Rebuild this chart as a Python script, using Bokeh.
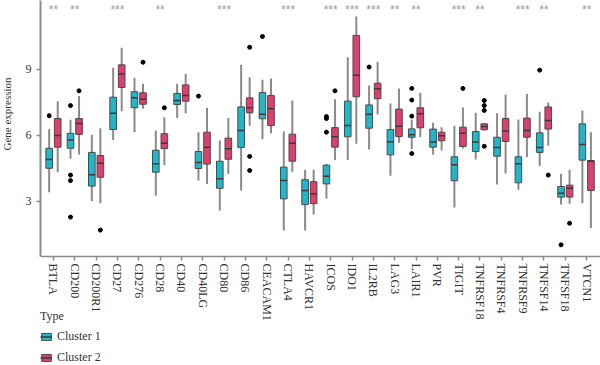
from bokeh.plotting import figure
from bokeh.models import ColumnDataSource, FixedTicker, Legend, LegendItem, Range1d, Title
from bokeh.core.properties import value
from bokeh.embed import file_html
from bokeh.resources import INLINE

genes = ["BTLA", "CD200", "CD200R1", "CD27", "CD276", "CD28", "CD40", "CD40LG",
         "CD80", "CD86", "CEACAM1", "CTLA4", "HAVCR1", "ICOS", "IDO1", "IL2RB",
         "LAG3", "LAIR1", "PVR", "TIGIT", "TNFRSF18", "TNFRSF4", "TNFRSF9",
         "TNFSF14", "TNFSF18", "VTCN1"]
stars = ["**", "**", "", "***", "", "**", "", "", "***", "", "", "***", "",
         "***", "***", "***", "**", "**", "", "***", "**", "", "***", "**", "", "**"]
y_ticks = [3, 6, 9]

# Cluster 1 box statistics
c1_lo = [3.42, 4.94, 3.01, 5.80, 6.15, 3.26, 6.80, 3.95, 2.59, 3.50, 5.83, 1.68, 1.68,
         3.14, 4.89, 5.36, 4.17, 5.38, 5.14, 2.73, 4.91, 3.77, 3.53, 4.61, 2.86, 2.92]
c1_q1 = [4.51, 5.42, 3.70, 6.27, 7.26, 4.33, 7.41, 4.50, 3.60, 5.45, 6.76, 3.12, 2.86,
         3.80, 5.94, 6.33, 5.12, 5.92, 5.47, 3.94, 5.27, 5.06, 3.85, 5.23, 3.20, 4.88]
c1_med = [4.91, 5.80, 4.21, 7.01, 7.71, 4.71, 7.59, 4.77, 4.03, 6.23, 6.97, 3.95, 3.50,
          4.15, 6.45, 6.97, 5.71, 6.03, 5.70, 4.67, 5.70, 5.45, 4.71, 5.45, 3.38, 5.59]
c1_q3 = [5.42, 6.10, 5.23, 7.74, 7.99, 5.33, 7.91, 5.27, 4.83, 7.30, 7.95, 4.56, 3.99,
         4.65, 7.56, 7.39, 6.27, 6.30, 6.29, 5.03, 6.18, 5.92, 5.03, 6.12, 3.68, 6.53]
c1_hi = [6.30, 6.71, 6.03, 9.08, 8.62, 6.23, 8.35, 6.15, 5.77, 9.21, 8.53, 6.18, 4.44,
         4.71, 9.56, 8.27, 7.45, 6.71, 6.58, 6.44, 7.03, 7.01, 6.73, 7.08, 4.26, 7.14]
c1_out_gene = ["BTLA", "CD200", "CD200", "CD200", "CD200", "CD40LG", "CEACAM1",
               "ICOS", "ICOS", "ICOS", "IL2RB", "LAIR1", "LAIR1", "LAIR1", "LAIR1",
               "TNFSF14", "TNFSF18"]
c1_out_val = [6.90, 7.36, 4.20, 3.95, 2.29, 7.79, 10.50,
              6.86, 6.77, 6.15, 9.11, 8.14, 7.61, 6.88, 5.18,
              8.97, 1.03]

# Cluster 2 box statistics
c2_lo = [4.33, 5.14, 2.92, 7.10, 7.21, 4.65, 7.01, 3.80, 4.26, 6.44, 6.10, 4.33, 2.41,
         4.89, 5.62, 6.95, 5.67, 5.92, 5.32, 5.41, 6.23, 4.27, 5.01, 5.53, 2.90, 1.80]
c2_q1 = [5.47, 6.05, 4.10, 8.18, 7.42, 5.40, 7.56, 4.70, 4.92, 7.03, 6.45, 4.83, 2.90,
         5.47, 7.76, 7.67, 5.95, 6.35, 5.76, 5.50, 6.26, 5.73, 5.92, 6.29, 3.20, 3.50]
c2_med = [6.00, 6.55, 4.74, 8.80, 7.65, 5.65, 7.82, 5.47, 5.40, 7.26, 7.21, 5.65, 3.35,
          5.94, 8.74, 8.12, 6.42, 6.99, 5.99, 6.10, 6.41, 6.20, 6.23, 6.68, 3.60, 4.83]
c2_q3 = [6.77, 6.77, 5.09, 9.21, 7.94, 6.08, 8.30, 6.15, 5.88, 7.71, 7.82, 6.06, 3.90,
         6.36, 10.55, 8.38, 7.20, 7.26, 6.15, 6.38, 6.53, 6.77, 6.79, 7.30, 3.74, 4.86]
c2_hi = [7.56, 7.80, 6.33, 9.99, 8.35, 6.83, 8.80, 7.26, 6.80, 8.65, 8.59, 7.59, 4.44,
         7.65, 11.41, 9.35, 8.14, 7.94, 6.38, 7.27, 6.56, 7.86, 7.89, 7.50, 4.44, 6.15]
c2_out_gene = ["CD200", "CD200R1", "CD276", "CD28", "CD86", "CD86", "CD86", "ICOS",
               "TIGIT", "TNFRSF18", "TNFRSF18", "TNFRSF18", "TNFRSF18", "TNFSF14",
               "TNFSF18"]
c2_out_val = [8.03, 1.70, 9.33, 7.26, 10.01, 5.05, 4.41, 8.03,
              8.14, 7.59, 7.36, 7.14, 5.51, 4.20,
              2.01]

CYAN = "#21B6C9"
PINK = "#DE3F6B"
TEXT = "#333333"
AXIS = "#8c8c8c"
SERIF = "Liberation Serif"
BOX_W = 0.31
OFFSET = 0.2
X_AXIS_AT = 0.5

p = figure(width=600, height=365, output_backend="svg", toolbar_location=None,
           x_range=Range1d(0.393, 26.65), y_range=Range1d(-4.455, 12.136),
           min_border_left=38, min_border_right=0, min_border_top=0,
           min_border_bottom=0)
p.outline_line_color = None
p.grid.visible = False
p.background_fill_color = "white"
p.border_fill_color = "white"

pos = [i + 1 for i in range(len(genes))]

clusters = [
    ("Cluster 1", CYAN, -OFFSET, c1_lo, c1_q1, c1_med, c1_q3, c1_hi, c1_out_gene, c1_out_val),
    ("Cluster 2", PINK, OFFSET, c2_lo, c2_q1, c2_med, c2_q3, c2_hi, c2_out_gene, c2_out_val),
]

items = []
for name, col, off, lo, q1, med, q3, hi, og, ov in clusters:
    xs = [x + off for x in pos]
    src = ColumnDataSource(dict(x=xs, lo=lo, q1=q1, med=med, q3=q3, hi=hi,
                                xl=[x - BOX_W / 2 for x in xs],
                                xr=[x + BOX_W / 2 for x in xs]))
    p.segment(x0="x", y0="lo", x1="x", y1="hi", source=src,
              line_color="#8a8a8a", line_width=2)
    b = p.vbar(x="x", bottom="q1", top="q3", width=BOX_W, source=src,
               fill_color=col, line_color="#4a4a4a", line_width=1)
    m = p.segment(x0="xl", y0="med", x1="xr", y1="med", source=src,
                  line_color="#3a3a3a", line_width=1.5)
    osrc = ColumnDataSource(dict(x=[genes.index(g) + 1 + off for g in og], y=ov))
    p.scatter(x="x", y="y", source=osrc, size=4, color="black")
    items.append(LegendItem(label=name, renderers=[b, m]))

ssrc = ColumnDataSource(dict(x=pos, y=[11.72] * len(pos), t=stars))
p.text(x="x", y="y", text="t", source=ssrc, text_align="center",
       text_baseline="middle", text_font=value("Liberation Sans"),
       text_font_size="12px", text_color="#9a9a9a")

# axes
for ax in (p.xaxis[0], p.yaxis[0]):
    ax.axis_line_color = AXIS
    ax.axis_line_width = 2
    ax.major_tick_line_color = AXIS
    ax.major_tick_line_width = 1.5
    ax.major_tick_in = 0
    ax.major_tick_out = 4
    ax.minor_tick_line_color = None
    ax.major_label_text_font = SERIF
    ax.major_label_text_font_size = "12px"
    ax.major_label_text_color = TEXT

p.xaxis.fixed_location = X_AXIS_AT
p.xaxis.ticker = FixedTicker(ticks=pos)
p.xaxis.major_label_overrides = {x: g for x, g in zip(pos, genes)}
p.xaxis.major_label_orientation = "vertical"
p.xaxis.major_label_standoff = 3
p.xaxis.axis_line_width = 1.5

p.yaxis.ticker = FixedTicker(ticks=y_ticks)
p.yaxis.bounds = (X_AXIS_AT, 13.5)
p.yaxis.major_label_standoff = 5
# invisible spacer label keeps the axis title at the far left
p.yaxis.axis_label = " "
p.yaxis.axis_label_text_font_size = "1px"
p.yaxis.axis_label_standoff = 4

ylab = Title(text="Gene expression", align="right", offset=77,
             vertical_align="top", standoff=0, text_font=SERIF,
             text_font_size="11px", text_font_style="normal",
             text_color=TEXT)
p.add_layout(ylab, "left")

legend = Legend(items=items, location=(0, 0), title="Type",
                orientation="vertical")
legend.padding = 0
legend.margin = 0
legend.spacing = 6
legend.glyph_width = 12
legend.glyph_height = 9
legend.label_height = 12
legend.label_standoff = 5
legend.title_standoff = 5
legend.title_text_font = SERIF
legend.title_text_font_size = "12px"
legend.title_text_font_style = "normal"
legend.title_text_color = TEXT
legend.label_text_font = SERIF
legend.label_text_font_size = "12px"
legend.label_text_color = TEXT
legend.background_fill_alpha = 0
legend.border_line_color = None
p.add_layout(legend)

open("out.html", "w").write(file_html(p, INLINE))
